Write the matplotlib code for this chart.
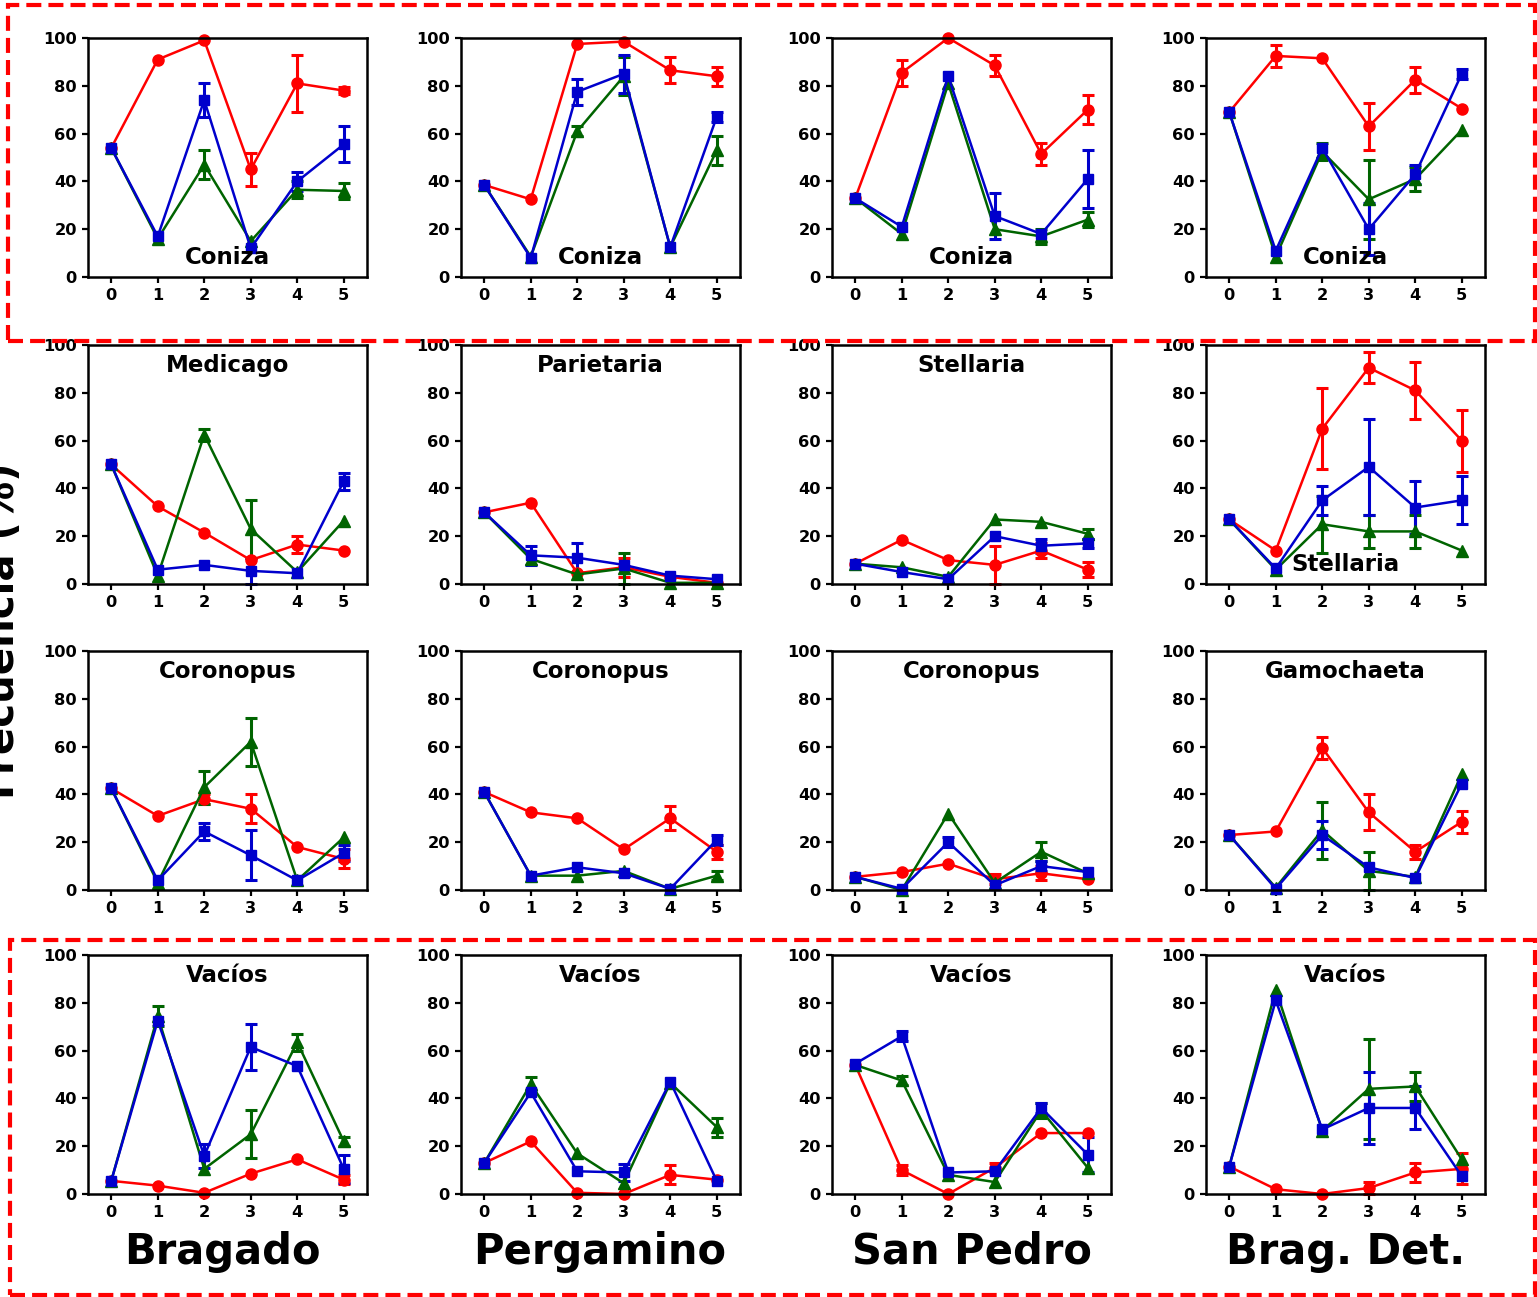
import matplotlib
matplotlib.use("Agg")
import matplotlib.pyplot as plt
from matplotlib.patches import Rectangle
import numpy as np

# dias / sitios
x = [0, 1, 2, 3, 4, 5]
sites = ["Bragado", "Pergamino", "San Pedro", "Brag. Det."]

titles = [["Coniza", "Coniza", "Coniza", "Coniza"],
          ["Medicago", "Parietaria", "Stellaria", "Stellaria"],
          ["Coronopus", "Coronopus", "Coronopus", "Gamochaeta"],
          ["Vacíos", "Vacíos", "Vacíos", "Vacíos"]]

# fila 1 - Coniza
row1_red = [[54, 91, 99, 45, 81, 78], [38.5, 32.5, 97.5, 98.5, 86.5, 84],
            [33, 85.5, 100, 88.5, 51.5, 70], [69, 92.5, 91.5, 63, 82.5, 70.5]]
row1_red_err = [[0, 0, 0, 7, 12, 1.5], [0, 0, 0, 0, 5.5, 4],
                [0, 5.5, 0, 4.5, 4.5, 6], [0, 4.5, 0, 10, 5.5, 0]]
row1_blue = [[54, 17, 74, 12, 40, 55.5], [38.5, 8, 77.5, 85, 12.5, 67],
             [33, 21, 84, 25.5, 18, 41], [69, 11, 54, 20, 43, 85]]
row1_blue_err = [[0, 0, 7, 0, 4, 7.5], [0, 0, 5.5, 8, 0, 2],
                 [0, 0, 0, 9.5, 0, 12], [0, 0, 0, 11, 4, 2]]
row1_green = [[54, 16, 47, 15, 36.5, 36], [38.5, 8.5, 61, 84, 12.5, 53],
              [33, 18, 81, 20, 17, 24], [69, 8.5, 52.5, 32.5, 41, 61.5]]
row1_green_err = [[0, 0, 6, 0, 3.5, 3.5], [0, 0, 2, 8, 0, 6],
                  [0, 0, 0, 0, 3, 3], [0, 0, 3.5, 16.5, 5, 0]]

# fila 2 - Medicago, Parietaria, Stellaria
row2_red = [[50, 32.5, 21.5, 10, 16.5, 14], [30, 34, 4.5, 7, 3, 0.5],
            [8.5, 18.5, 10, 8, 14, 6], [27, 14, 65, 90.5, 81, 60]]
row2_red_err = [[0, 0, 0, 0, 3.5, 0], [0, 0, 0, 4, 0, 0],
                [0, 0, 0, 8, 3, 3], [0, 0, 17, 6.5, 12, 13]]
row2_blue = [[50, 6, 8, 5.5, 4.5, 43], [30, 12, 11, 8, 3.5, 2],
             [8.5, 5, 2, 20, 16, 17], [27, 6.5, 35, 49, 32, 35]]
row2_blue_err = [[0, 0, 0, 5.5, 0, 3.5], [0, 4, 6, 0, 0, 0],
                 [0, 0, 0, 0, 3, 2], [0, 0, 6, 20, 11, 10]]
row2_green = [[50, 3.5, 62.5, 23, 5, 26.5], [30, 10.5, 4, 6.5, 0.5, 0.5],
              [8.5, 7, 3, 27, 26, 21], [27, 6, 25, 22, 22, 14]]
row2_green_err = [[0, 0, 2.5, 12, 0, 0], [0, 0, 0, 6.5, 0, 0],
                  [0, 0, 0, 0, 0, 2], [0, 0, 12, 7, 7, 0]]

# fila 3 - Coronopus, Gamochaeta
row3_red = [[42.5, 31, 38, 34, 18, 13], [41, 32.5, 30, 17, 30, 16],
            [5.5, 7.5, 11, 4.5, 7, 4.5], [23, 24.5, 59.5, 32.5, 16, 28.5]]
row3_red_err = [[0, 0, 2, 6, 0, 4], [0, 0, 0, 0, 5, 3],
                [0, 0, 0, 2, 3, 0], [0, 0, 4.5, 7.5, 3, 4.5]]
row3_blue = [[42.5, 4, 24.5, 14.5, 4, 15.5], [41, 6, 9.5, 7, 0.5, 21],
             [5.5, 0.5, 20, 2, 10, 7.5], [23, 0.5, 23, 9.5, 5, 44.5]]
row3_blue_err = [[0, 0, 3.5, 10.5, 0, 3.5], [0, 0, 0, 0, 0, 2],
                 [0, 0, 2, 0, 2, 0], [0, 0, 6, 0, 0, 0]]
row3_green = [[42.5, 3, 43, 62, 4, 22], [41, 6, 6, 8, 0.5, 6],
              [5.5, 0, 32, 3, 16, 7], [23, 1, 25, 8, 5.5, 48.5]]
row3_green_err = [[0, 0, 7, 10, 0, 0], [0, 0, 0, 0, 0, 2],
                  [0, 0, 0, 0, 4, 0], [0, 0, 12, 8, 0, 0]]

# fila 4 - Vacios
row4_red = [[5.5, 3.5, 0.5, 8.5, 14.5, 6], [13, 22, 0.5, 0, 8, 6],
            [54, 10, 0, 11, 25.5, 25.5], [11.5, 2, 0, 2.5, 9, 10.5]]
row4_red_err = [[0, 0, 0, 0, 0, 2], [0, 0, 0, 0, 4, 0],
                [0, 2, 0, 2, 0, 0], [0, 0, 0, 2.5, 4, 6.5]]
row4_blue = [[5.5, 72.5, 16, 61.5, 53.5, 10.5], [13, 42.5, 9.5, 9, 47, 5.5],
             [54.5, 66, 9, 9.5, 36, 16.5], [11.5, 81, 27, 36, 36, 7.5]]
row4_blue_err = [[0, 0, 5, 9.5, 0, 6], [0, 0, 0, 3.5, 0, 0],
                 [0, 2, 0, 0, 2, 7.5], [0, 0, 0, 15, 9, 0]]
row4_green = [[5.5, 74.5, 10.5, 25, 63.5, 22], [13, 46, 17, 4.5, 46.5, 28],
              [54, 47.5, 8, 5, 35, 11], [11.5, 85.5, 26.5, 44, 45, 14.5]]
row4_green_err = [[0, 4, 0, 10, 3.5, 2], [0, 3, 0, 0, 0, 4],
                  [0, 2, 0, 0, 3, 0], [0, 0, 0, 21, 6, 0]]

rows = [
    (row1_red, row1_red_err, row1_blue, row1_blue_err, row1_green, row1_green_err),
    (row2_red, row2_red_err, row2_blue, row2_blue_err, row2_green, row2_green_err),
    (row3_red, row3_red_err, row3_blue, row3_blue_err, row3_green, row3_green_err),
    (row4_red, row4_red_err, row4_blue, row4_blue_err, row4_green, row4_green_err),
]

W, H = 1537, 1297
fig = plt.figure(figsize=(W / 100, H / 100), dpi=100)
plt.rcParams['font.family'] = ['DejaVu Sans']

col_left = [88, 461, 832, 1206]
row_top = [38, 345, 651, 955]
aw, ah = 279, 239

red, blue, green = '#ff0000', '#0000cc', '#006400'

for i in range(4):
    r, re, b, be, g, ge = rows[i]
    for j in range(4):
        ax = fig.add_axes([col_left[j] / W, 1 - (row_top[i] + ah) / H, aw / W, ah / H])
        for vals, err, c, m, ms in [(r, re, red, 'o', 8), (g, ge, green, '^', 8.5), (b, be, blue, 's', 7.5)]:
            e = np.array(err[j], dtype=float)
            ax.errorbar(x, vals[j], yerr=np.where(e > 0, e, np.nan), color=c, marker=m, ms=ms,
                        lw=1.8, elinewidth=2.2, capsize=4, capthick=2.2, clip_on=False)
        ax.set_xlim(-0.5, 5.5)
        ax.set_ylim(0, 100)
        ax.set_xticks(x)
        ax.set_yticks([0, 20, 40, 60, 80, 100])
        for s in ax.spines.values():
            s.set_linewidth(1.8)
        ax.tick_params(direction='out', length=4.5, width=1.6, labelsize=11.7, pad=3.5)
        for lab in ax.get_xticklabels() + ax.get_yticklabels():
            lab.set_fontweight('bold')
        bottom_title = (i == 0) or (i == 1 and j == 3)
        ax.text(0.5, 0.08 if bottom_title else 0.915, titles[i][j], transform=ax.transAxes,
                ha='center', va='center', fontsize=16.5, fontweight='bold')

# nombres de sitio
site_x = [222, 600, 972, 1346]
for sx, name in zip(site_x, sites):
    fig.text(sx / W, 1 - 1252 / H, name, ha='center', va='center', fontsize=30, fontweight='bold')

fig.text(23 / W, 1 - 631 / H, "Frecuencia (%)", rotation=90, ha='right', va='center',
         fontsize=29, fontweight='bold')

# recuadros rojos
for (x0, y0, x1, y1) in [(8, 5, 1535, 341), (10, 940, 1535, 1295)]:
    fig.patches.append(Rectangle((x0 / W, 1 - y1 / H), (x1 - x0) / W, (y1 - y0) / H,
                                 transform=fig.transFigure, fill=False, ec='red', lw=3,
                                 ls=(0, (3.6, 1.7)), zorder=10))

fig.savefig("out.png", dpi=100)
